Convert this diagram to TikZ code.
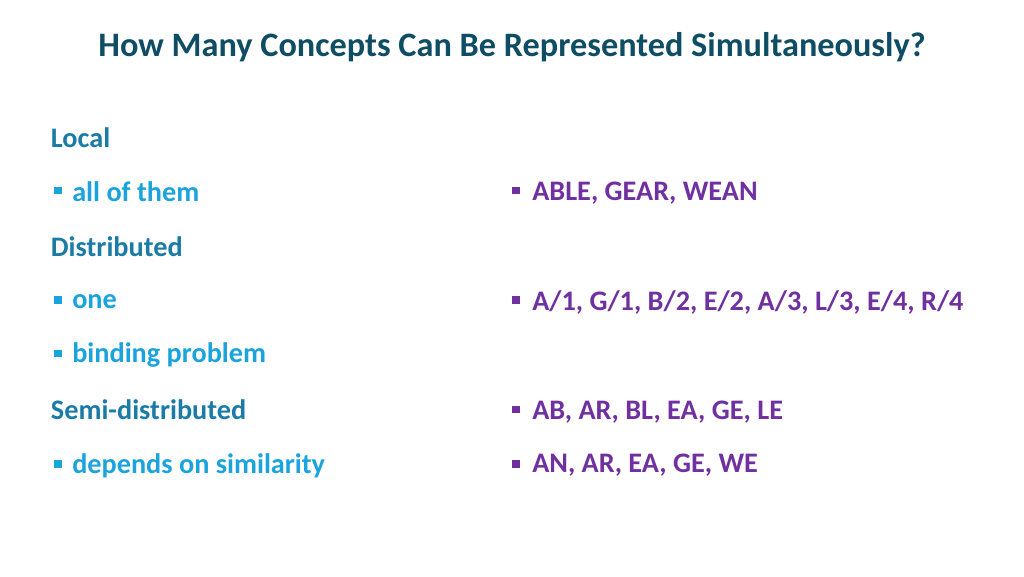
\documentclass[tikz,border=0pt]{standalone}
\usepackage{fontspec}
\setmainfont{Carlito}
\definecolor{titlec}{HTML}{0E4D64}
\definecolor{headc}{HTML}{1A7CA6}
\definecolor{bulc}{HTML}{1AA3DD}
\definecolor{purc}{HTML}{7030A0}
\begin{document}
\begin{tikzpicture}[x=1pt,y=-1pt,
  txt/.style={anchor=west,inner sep=0pt,font=\bfseries\fontsize{21.2}{24}\selectfont},
  head/.style={txt,text=headc},
  lb/.style={txt,text=bulc},
  rb/.style={txt,text=purc},
  sq/.style={fill=#1,minimum size=5.5pt,inner sep=0pt}]
\useasboundingbox (0,0) rectangle (768,432);
\node[font=\bfseries\fontsize{25.7}{28}\selectfont,text=titlec] (title) at (384,35.5) {How Many Concepts Can Be Represented Simultaneously?};
\node[head] (local) at (38,103) {Local};
\node[sq=bulc] (b1) at (43.5,143) {}; \node[lb] (t1) at (54,144) {all of them};
\node[head] (dist) at (38,185) {Distributed};
\node[sq=bulc] (b2) at (43.5,225) {}; \node[lb] (t2) at (54,226) {one};
\node[sq=bulc] (b3) at (43.5,265) {}; \node[lb] (t3) at (54,266) {binding problem};
\node[head] (semi) at (38,307) {Semi-distributed};
\node[sq=bulc] (b4) at (43.5,348) {}; \node[lb] (t4) at (54,349) {depends on similarity};
\node[sq=purc] (r1) at (387,143) {}; \node[rb] (u1) at (399,145) {ABLE, GEAR, WEAN};
\node[sq=purc] (r2) at (387,225) {}; \node[rb] (u2) at (399,227) {A/1, G/1, B/2, E/2, A/3, L/3, E/4, R/4};
\node[sq=purc] (r3) at (387,307) {}; \node[rb] (u3) at (399,309) {AB, AR, BL, EA, GE, LE};
\node[sq=purc] (r4) at (387,348) {}; \node[rb] (u4) at (399,349) {AN, AR, EA, GE, WE};
\end{tikzpicture}
\end{document}
